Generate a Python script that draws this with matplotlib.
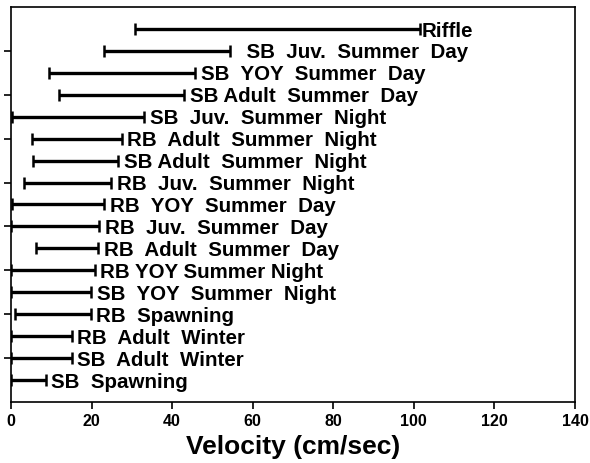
import numpy as np
import matplotlib.pyplot as plt

plt.rcParams['font.family'] = ['Liberation Sans', 'DejaVu Sans']

# habitat use ranges, top row first
labels = ["Riffle",
          "  SB  Juv.  Summer  Day",
          "SB  YOY  Summer  Day",
          "SB Adult  Summer  Day",
          "SB  Juv.  Summer  Night",
          "RB  Adult  Summer  Night",
          "SB Adult  Summer  Night",
          "RB  Juv.  Summer  Night",
          "RB  YOY  Summer  Day",
          "RB  Juv.  Summer  Day",
          "RB  Adult  Summer  Day",
          "RB YOY Summer Night",
          "SB  YOY  Summer  Night",
          "RB  Spawning",
          "RB  Adult  Winter",
          "SB  Adult  Winter",
          "SB  Spawning"]
low = [30.8, 23.1, 9.4, 12.0, 0.2, 5.1, 5.4, 3.2, 0.2, 0.0, 6.2, 0.0, 0.0, 1.0, 0.0, 0.0, 0.0]
high = [101.5, 54.3, 45.7, 43.0, 33.1, 27.5, 26.6, 24.8, 23.2, 21.9, 21.7, 20.8, 19.9, 19.8, 15.1, 15.1, 8.6]

n = len(labels)
y = np.arange(n, 0, -1)
low = np.array(low)
high = np.array(high)

fig = plt.figure(figsize=(5.9, 4.64), dpi=100)
ax = fig.add_axes([0.0186, 0.1315, 0.956, 0.8513])

ax.errorbar((low + high) / 2, y, xerr=(high - low) / 2, fmt='none',
            ecolor='black', elinewidth=2.4, capsize=4, capthick=1.8)
for yi, hi, lab in zip(y, high, labels):
    off = 0.4 if lab == "Riffle" else 1.4
    ax.text(hi + off, yi - 0.05, lab, va='center', ha='left', fontsize=14.8,
            fontweight='bold')

ax.set_xlim(0, 140)
ax.set_ylim(0, 18)
ax.set_xticks(np.arange(0, 141, 20))
ax.set_yticks(np.arange(2, 17, 2))
ax.set_yticklabels([])
ax.tick_params(axis='both', direction='out', length=5, width=1.2)
ax.tick_params(axis='x', labelsize=11.5, pad=3)
for t in ax.get_xticklabels():
    t.set_fontweight('bold')
for s in ax.spines.values():
    s.set_linewidth(1.2)
ax.set_xlabel("Velocity (cm/sec)", fontsize=19, fontweight='bold', labelpad=4)

fig.savefig("out.png", dpi=100)
